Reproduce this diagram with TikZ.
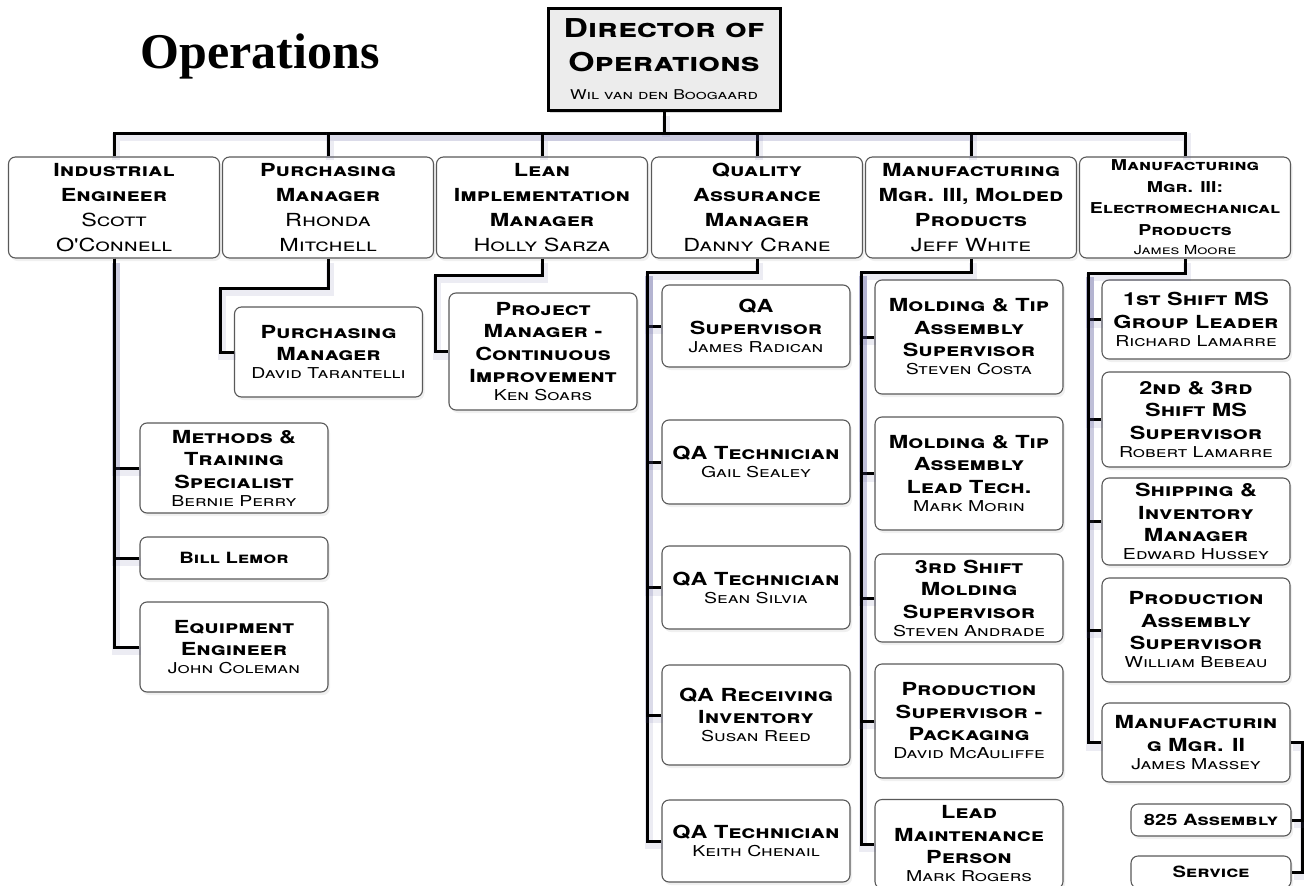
\documentclass[tikz,border=0pt]{standalone}
\usepackage{fontspec}
\setmainfont{Liberation Serif}
\newfontfamily\cpfont[FakeStretch=1.3]{TeX Gyre Heros}
\usetikzlibrary{shadows}

% fonts for the boxes
\newcommand\ttl{\cpfont\bfseries\scshape\fontsize{18}{22.5}\selectfont}
\newcommand\ttltop{\cpfont\bfseries\scshape\fontsize{18}{25}\selectfont}
\newcommand\ttlsm{\cpfont\bfseries\scshape\fontsize{15}{21.5}\selectfont}
\newcommand\ttlxs{\cpfont\bfseries\scshape\fontsize{15.5}{18}\selectfont}
\newcommand\who{\cpfont\mdseries\scshape\fontsize{15}{18}\selectfont}
\newcommand\whobig{\cpfont\mdseries\scshape\fontsize{18}{25}\selectfont}
\newcommand\whosm{\cpfont\mdseries\scshape\fontsize{12.5}{16}\selectfont}

\tikzset{
  link/.style={line width=3pt,
    preaction={draw=blue!25!gray, opacity=0.12, line width=8pt,
      transform canvas={xshift=2pt, yshift=-4pt}}},
  unit/.style={draw=gray!70!black, line width=1.1pt, rounded corners=7pt, fill=white,
    align=center, inner sep=2pt, font=\ttl,
    drop shadow={opacity=0.12, shadow xshift=2pt, shadow yshift=-3pt}},
  topunit/.style={unit, font=\ttltop, minimum width=211pt, minimum height=101pt},
  subunit/.style={unit, minimum width=188pt},
  smallunit/.style={unit, font=\ttlxs, minimum width=160pt, minimum height=32pt},
  head/.style={draw=black, line width=3pt, fill=gray!15, minimum width=232pt,
    minimum height=102pt, align=center,
    font=\cpfont\bfseries\scshape\fontsize{26}{34}\selectfont,
    drop shadow={opacity=0.3, shadow xshift=2pt, shadow yshift=-3pt}},
}

\begin{document}
\begin{tikzpicture}[x=1pt,y=-1pt]
\useasboundingbox (0,0) rectangle (1304,886);
\clip (0,0) rectangle (1304,886);

\node[anchor=base, font=\bfseries\fontsize{50}{55}\selectfont] (title) at (260,68) {Operations};
\node[head] (dir) at (664,59) {Director of\\Operations\\[-6pt]\cpfont\mdseries\scshape\fontsize{13.5}{16}\selectfont Wil van den Boogaard};

% first row
\node[topunit] (ind) at (114,207.5) {Industrial\\Engineer\\\whobig Scott\\\whobig O'Connell};
\node[topunit] (pur) at (328,207.5) {Purchasing\\Manager\\\whobig Rhonda\\\whobig Mitchell};
\node[topunit] (lean) at (542,207.5) {Lean\\Implementation\\Manager\\\whobig Holly Sarza};
\node[topunit] (qa) at (757,207.5) {Quality\\Assurance\\Manager\\\whobig Danny Crane};
\node[topunit] (mfm) at (971,207.5) {Manufacturing\\Mgr. III, Molded\\Products\\\whobig Jeff White};
\node[topunit, font=\ttlsm] (mfe) at (1185,207.5) {Manufacturing\\Mgr. III:\\Electromechanical\\Products\\[-2pt]\whosm James Moore};

% industrial engineer
\node[subunit, minimum height=90pt] (mts) at (234,468) {Methods \&\\Training\\Specialist\\[-4.5pt]\who Bernie Perry};
\node[subunit, minimum height=42pt, font=\ttlxs] (lemor) at (234,558) {Bill Lemor};
\node[subunit, minimum height=90pt] (equip) at (234,647) {Equipment\\Engineer\\[-4.5pt]\who John Coleman};

% purchasing and lean
\node[subunit, minimum height=90pt] (tarant) at (328.5,352) {Purchasing\\Manager\\[-4.5pt]\who David Tarantelli};
\node[subunit, minimum height=117pt] (pmci) at (543,351.5) {Project\\Manager -\\Continuous\\Improvement\\[-4.5pt]\who Ken Soars};

% quality
\node[subunit, minimum height=82pt] (qasup) at (756,326) {QA\\Supervisor\\[-4.5pt]\who James Radican};
\node[subunit, minimum height=84pt] (qat1) at (756,462) {QA Technician\\[-4.5pt]\who Gail Sealey};
\node[subunit, minimum height=83pt] (qat2) at (756,587.5) {QA Technician\\[-4.5pt]\who Sean Silvia};
\node[subunit, minimum height=100pt] (qarec) at (756,715) {QA Receiving\\Inventory\\[-4.5pt]\who Susan Reed};
\node[subunit, minimum height=82pt] (qat3) at (756,841) {QA Technician\\[-4.5pt]\who Keith Chenail};

% molded products
\node[subunit, minimum height=114pt] (mt1) at (969,337) {Molding \& Tip\\Assembly\\Supervisor\\[-4.5pt]\who Steven Costa};
\node[subunit, minimum height=113pt] (mt2) at (969,473.5) {Molding \& Tip\\Assembly\\Lead Tech.\\[-4.5pt]\who Mark Morin};
\node[subunit, minimum height=88pt] (shift3) at (969,598) {3rd Shift\\Molding\\Supervisor\\[-4.5pt]\who Steven Andrade};
\node[subunit, minimum height=114pt] (pack) at (969,721) {Production\\Supervisor -\\Packaging\\[-4.5pt]\who David McAuliffe};
\node[subunit, minimum height=89pt] (maint) at (969,844) {Lead\\Maintenance\\Person\\[-4.5pt]\who Mark Rogers};

% electromechanical products
\node[subunit, minimum height=79pt] (g1) at (1196,319.5) {1st Shift MS\\Group Leader\\[-4.5pt]\who Richard Lamarre};
\node[subunit, minimum height=95pt] (g23) at (1196,419.5) {2nd \& 3rd\\Shift MS\\Supervisor\\[-4.5pt]\who Robert Lamarre};
\node[subunit, minimum height=87pt] (ship) at (1196,521.5) {Shipping \&\\Inventory\\Manager\\[-4.5pt]\who Edward Hussey};
\node[subunit, minimum height=104pt] (prod) at (1196,630) {Production\\Assembly\\Supervisor\\[-4.5pt]\who William Bebeau};
\node[subunit, minimum height=79pt] (mgr2) at (1196,742.5) {Manufacturin\\g Mgr. II\\[-4.5pt]\who James Massey};
\node[smallunit] (a825) at (1211,820) {825 Assembly};
\node[smallunit] (serv) at (1211,872) {Service};

% connectors
\coordinate (bar) at (664,133);
\draw[link] (dir) -- (bar);
\foreach \n in {ind,pur,lean,qa,mfm,mfe}
  \draw[link] (\n.north) |- (bar);

\foreach \n in {mts,lemor,equip}
  \draw[link] (ind.south) |- (\n.west);

\coordinate (pk) at (220,288);
\draw[link] (pur.south) |- (pk) |- (tarant.west);
\coordinate (lk) at (435,275);
\draw[link] (lean.south) |- (lk) |- (pmci.west);

\coordinate (qk) at (647,272);
\draw[link] (qa.south) |- (qk) |- (qat3.west);
\foreach \n in {qasup,qat1,qat2,qarec}
  \draw[link] (qk) |- (\n.west);

\coordinate (mk) at (861,272);
\draw[link] (mfm.south) |- (mk) |- (maint.west);
\foreach \n in {mt1,mt2,shift3,pack}
  \draw[link] (mk) |- (\n.west);

\coordinate (ek) at (1088,273);
\draw[link] (mfe.south) |- (ek) |- (mgr2.west);
\foreach \n in {g1,g23,ship,prod}
  \draw[link] (ek) |- (\n.west);

\coordinate (m2k) at (1302,742.5);
\draw[link] (mgr2.east) -- (m2k) |- (serv.east);
\draw[link] (m2k) |- (a825.east);
\end{tikzpicture}
\end{document}
